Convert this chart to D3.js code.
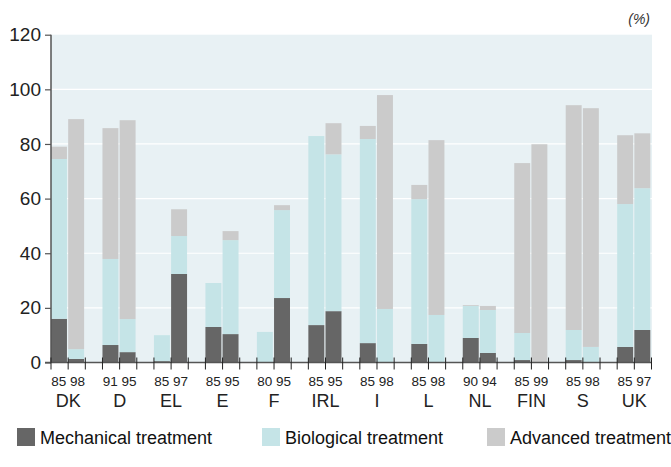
<!DOCTYPE html>
<html>
<head>
<meta charset="utf-8">
<script src="https://cdn.jsdelivr.net/npm/d3@7"></script>
<style>
  html, body { margin: 0; padding: 0; background: #fff; }
  svg { display: block; font-family: "Liberation Sans", Arial, sans-serif; }
</style>
</head>
<body>
<svg id="chart" width="671" height="467"></svg>
<script>
const countries = ["DK","D","EL","E","F","IRL","I","L","NL","FIN","S","UK"];
const years = [["85","98"],["91","95"],["85","97"],["85","95"],["80","95"],["85","95"],["85","98"],["85","98"],["90","94"],["85","99"],["85","98"],["85","97"]];
// values per bar, in order country by country (first year, second year)
const mechanical = [16, 1.3, 6.4, 3.8, 0.5, 32.4, 13, 10.4, 0, 23.6, 13.7, 18.8, 7.1, 0, 6.8, 0, 9.0, 3.5, 0.9, 0, 0.9, 0, 5.7, 11.9];
const biological = [58.5, 3.6, 31.5, 12.1, 9.5, 13.9, 16.1, 34.4, 11.2, 32.2, 69.2, 57.4, 74.7, 19.6, 53, 17.4, 11.7, 15.7, 9.9, 0, 11, 5.7, 52.3, 51.9];
const advanced = [4.5, 84.2, 47.9, 72.8, 0, 9.8, 0, 3.3, 0, 1.8, 0, 11.4, 4.8, 78.3, 5.2, 64, 0.3, 1.5, 62.2, 79.9, 82.3, 87.4, 25.2, 20.1];
const seriesNames = ["Mechanical treatment", "Biological treatment", "Advanced treatment"];
const seriesKeys = ["mechanical", "biological", "advanced"];
const colors = ["#666666", "#c5e4e7", "#cbcbcb"];
const yTicks = [0, 20, 40, 60, 80, 100, 120];

const rows = [];
countries.forEach((c, i) => {
  years[i].forEach((yr, j) => {
    const k = i * 2 + j;
    rows.push({country: c, year: yr, idx: j, mechanical: mechanical[k], biological: biological[k], advanced: advanced[k]});
  });
});

const svg = d3.select("#chart");
const mLeft = 51, mRight = 651.5, mTop = 34.7, mBottom = 362.5;

const x = d3.scaleBand().domain(countries).range([mLeft, mRight]).paddingInner(1/3).paddingOuter(0);
const xi = d3.scaleBand().domain([0, 1]).range([0, x.bandwidth()]).padding(0);
const y = d3.scaleLinear().domain([0, 120]).range([mBottom, mTop]);

// background
svg.append("rect").attr("x", mLeft).attr("y", y(120)).attr("width", mRight - mLeft + 0.5).attr("height", y(0) - y(120)).attr("fill", "#e8f1f4");

// grid
svg.append("g").selectAll("line").data(yTicks.filter(t => t > 0 && t < 120)).join("line")
  .attr("x1", mLeft).attr("x2", mRight + 0.5).attr("y1", d => y(d)).attr("y2", d => y(d))
  .attr("stroke", "#ffffff").attr("stroke-width", 1.2);

// bars
const stack = d3.stack().keys(seriesKeys);
const stacked = stack(rows);
svg.append("g").selectAll("g").data(stacked).join("g")
  .attr("fill", (d, i) => colors[i])
  .selectAll("rect").data(d => d).join("rect")
  .attr("x", d => x(d.data.country) + xi(d.data.idx))
  .attr("width", xi.bandwidth() - 1.2)
  .attr("y", d => y(d[1]))
  .attr("height", d => Math.max(0, y(d[0]) - y(d[1])));

// y axis
const yAxis = d3.axisLeft(y).tickValues(yTicks).tickSize(6).tickPadding(4);
const gy = svg.append("g").attr("transform", `translate(${mLeft},0)`).call(yAxis);
gy.select(".domain").attr("stroke", "#555").attr("stroke-width", 1.5).attr("d", `M0,${y(120)}V${y(0)}`);
gy.selectAll(".tick line").attr("stroke", "#555").attr("stroke-width", 1.2);
gy.selectAll(".tick text").attr("font-size", 19).attr("fill", "#222").attr("font-family", "Liberation Sans, Arial, sans-serif");

// x axis line
svg.append("line").attr("x1", mLeft - 6).attr("x2", mRight + 0.5).attr("y1", mBottom).attr("y2", mBottom)
  .attr("stroke", "#555").attr("stroke-width", 1.5);

// x ticks at every slot boundary
const slot = xi.bandwidth();
const tickXs = [];
countries.forEach(c => { tickXs.push(x(c), x(c) + slot, x(c) + 2 * slot); });
svg.append("g").selectAll("line").data(tickXs).join("line")
  .attr("x1", d => d).attr("x2", d => d).attr("y1", mBottom - 5).attr("y2", mBottom + 7)
  .attr("stroke", "#222").attr("stroke-width", 1);

// year labels
svg.append("g").selectAll("text").data(countries).join("text")
  .attr("x", d => x(d) + x.bandwidth() / 2).attr("y", 386)
  .attr("text-anchor", "middle").attr("font-size", 13.5).attr("fill", "#222")
  .text((d, i) => years[i].join(" "));

// country labels
svg.append("g").selectAll("text").data(countries).join("text")
  .attr("x", d => x(d) + x.bandwidth() / 2).attr("y", 407)
  .attr("text-anchor", "middle").attr("font-size", 18).attr("fill", "#222")
  .text(d => d);

// unit
svg.append("text").attr("x", 650).attr("y", 24).attr("text-anchor", "end")
  .attr("font-size", 14).attr("font-style", "italic").attr("fill", "#333").text("(%)");

// legend
const legendX = [17, 262, 487];
const lg = svg.append("g").selectAll("g").data(seriesNames).join("g")
  .attr("transform", (d, i) => `translate(${legendX[i]},428)`);
lg.append("rect").attr("width", 18).attr("height", 18).attr("fill", (d, i) => colors[i]);
lg.append("text").attr("x", 23).attr("y", 16).attr("font-size", 18).attr("fill", "#111").text(d => d);
</script>
</body>
</html>
